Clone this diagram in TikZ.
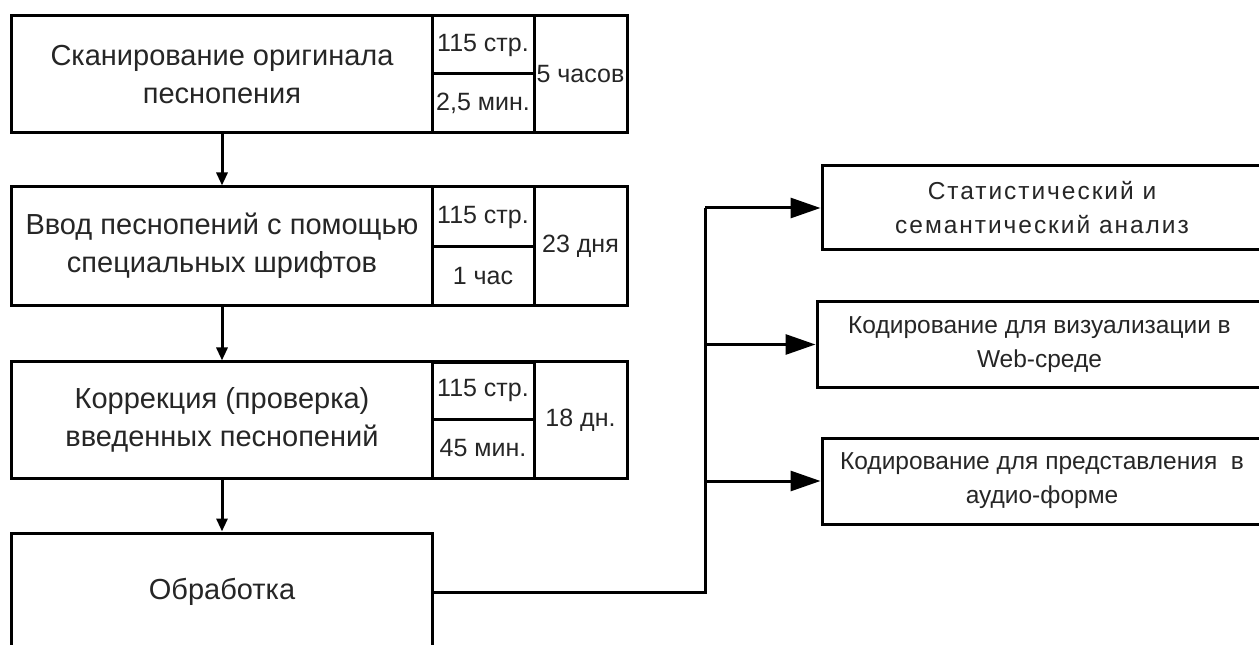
\documentclass[tikz,border=0pt]{standalone}
\usepackage{fontspec}
\setmainfont{Liberation Sans}
\newfontfamily\spacedfont[LetterSpace=8]{Liberation Sans}
\usetikzlibrary{arrows.meta}
\begin{document}
\begin{tikzpicture}[x=1bp,y=-1bp,
  blk/.style={draw=black, line width=3bp, inner sep=0pt, align=center,
    text=black!85, font=\fontsize{29bp}{38bp}\selectfont},
  cell/.style={draw=black, line width=3bp, inner sep=0pt, align=center,
    text=black!85, font=\fontsize{25bp}{30bp}\selectfont},
  rbox/.style={draw=black, line width=3bp, inner sep=0pt, align=center,
    text=black!85, font=\fontsize{24.5bp}{34bp}\selectfont},
  conn/.style={line width=3bp, draw=black},
  varrow/.style={conn, -{Triangle[length=13bp,width=11bp]}},
  harrow/.style={conn, -{Triangle[length=30bp,width=20bp]}}]
\useasboundingbox (0,0) rectangle (1259,645);
\clip (0,0) rectangle (1259,645);
\fill[white] (0,0) rectangle (1259,645);

% row 1
\node[blk, minimum width=420bp, minimum height=117bp] (s1) at (222,74.5) {Сканирование оригинала\\песнопения};
\node[cell, minimum width=102bp, minimum height=58bp] (s1a) at (483,45) {115 стр.};
\node[cell, minimum width=102bp, minimum height=59bp] (s1b) at (483,103.5) {2,5 мин.};
\node[cell, minimum width=93bp, minimum height=117bp] (s1c) at (580.5,74.5) {5 часов};

% row 2
\node[blk, minimum width=420bp, minimum height=118bp] (s2) at (222,246) {Ввод песнопений с помощью\\специальных шрифтов};
\node[cell, minimum width=102bp, minimum height=60bp] (s2a) at (483,217) {115 стр.};
\node[cell, minimum width=102bp, minimum height=58bp] (s2b) at (483,276) {1 час};
\node[cell, minimum width=93bp, minimum height=118bp] (s2c) at (580.5,246) {23 дня};

% row 3
\node[blk, minimum width=420bp, minimum height=116bp] (s3) at (222,420) {Коррекция (проверка)\\введенных песнопений};
\node[cell, minimum width=102bp, minimum height=57bp] (s3a) at (483,390.5) {115 стр.};
\node[cell, minimum width=102bp, minimum height=59bp] (s3b) at (483,448.5) {45 мин.};
\node[cell, minimum width=93bp, minimum height=116bp] (s3c) at (580.5,420) {18 дн.};

% row 4
\node[blk, minimum width=420bp, minimum height=118bp] (s4) at (222,592) {Обработка};

% right boxes
\node[rbox, minimum width=440bp, minimum height=84bp] (rA) at (1042,208) {\spacedfont Статистический и\\\spacedfont семантический анализ};
\node[rbox, minimum width=445bp, minimum height=85bp] (rB) at (1039.5,344.5) {Кодирование для визуализации в\\Web-среде};
\node[rbox, minimum width=440bp, minimum height=86bp] (rC) at (1042,481) {Кодирование для представления\ \ в\\аудио-форме};

% connectors
\draw[varrow] (s1.south) -- (s2.north);
\draw[varrow] (s2.south) -- (s3.north);
\draw[varrow] (s3.south) -- (s4.north);

\coordinate (bx) at (705,0);
\draw[conn] (s4.east) -| (bx |- rA.west);
\draw[harrow] (bx |- rA.west) -- (rA.west);
\draw[harrow] (bx |- rB.west) -- (rB.west);
\draw[harrow] (bx |- rC.west) -- (rC.west);
\end{tikzpicture}
\end{document}
